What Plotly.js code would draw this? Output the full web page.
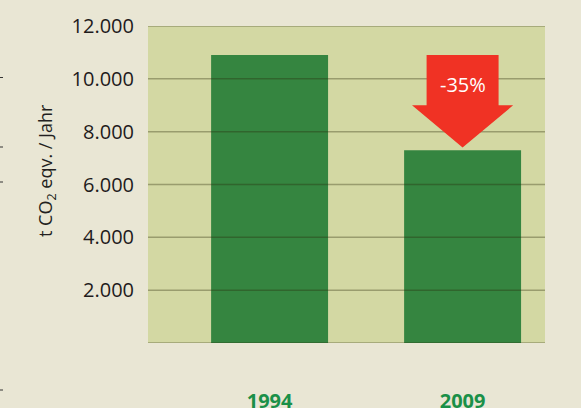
<!DOCTYPE html>
<html>
<head>
<meta charset="utf-8">
<script src="https://cdn.plot.ly/plotly-3.0.1.min.js"></script>
<style>html,body{margin:0;padding:0;background:#e9e6d4;}#chart{width:581px;height:408px;}</style>
</head>
<body>
<div id="chart"></div>
<script>
// ---- data ----
const years = ['1994', '2009'];
const emissions = [10900, 7300];
const yTicks = [2000, 4000, 6000, 8000, 10000, 12000];
const changeLabel = '-35%';
const yTitle = 't CO<sub>2</sub> eqv. / Jahr';

// ---- layout helpers ----
const xRange = [-0.63, 1.427];
const span = xRange[1] - xRange[0];
const toPaper = v => (v - xRange[0]) / span;

const cx = toPaper(1);
const rectHalf = 0.1865 / span;
const triHalf = 0.262 / span;
const arrowTop = emissions[0];
const arrowNeck = 9000;
const arrowTip = emissions[1] + 100;
const arrowPath = 'M' + (cx - rectHalf) + ',' + arrowTop +
  ' L' + (cx + rectHalf) + ',' + arrowTop +
  ' L' + (cx + rectHalf) + ',' + arrowNeck +
  ' L' + (cx + triHalf) + ',' + arrowNeck +
  ' L' + cx + ',' + arrowTip +
  ' L' + (cx - triHalf) + ',' + arrowNeck +
  ' L' + (cx - rectHalf) + ',' + arrowNeck + ' Z';

const shapes = [];
[0].concat(yTicks).forEach(v => {
  shapes.push({type: 'line', xref: 'paper', yref: 'y', x0: 0, x1: 1, y0: v, y1: v,
    line: {color: 'rgba(40,40,10,0.34)', width: 1.5}, layer: 'above'});
});
shapes.push({type: 'path', xref: 'paper', yref: 'y', path: arrowPath,
  fillcolor: '#f03224', line: {width: 0}, layer: 'above'});

// little marks at left edge
const plotL = 148, plotW = 397, plotB = 343, plotH = 317;
[77.5, 147, 182, 390].forEach(py => {
  const yp = (plotB - py) / plotH;
  shapes.push({type: 'line', xref: 'paper', yref: 'paper',
    x0: (0 - plotL) / plotW, x1: (3 - plotL) / plotW, y0: yp, y1: yp,
    line: {color: '#333', width: 1}});
});

const trace = {
  type: 'bar', x: years, y: emissions, width: 0.606,
  marker: {color: '#358540', line: {width: 0}},
  hoverinfo: 'none'
};

const layout = {
  width: 581, height: 408,
  margin: {l: 148, r: 36, t: 26, b: 65},
  paper_bgcolor: '#e9e6d4', plot_bgcolor: '#d3d8a3',
  separators: ',.',
  showlegend: false,
  font: {family: 'Open Sans, sans-serif', color: '#231f20'},
  xaxis: {
    type: 'category', range: xRange, fixedrange: true,
    showgrid: false, zeroline: false, showline: false, ticks: '',
    tickfont: {size: 20, color: '#1a9048', weight: 'bold'},
    ticklabelstandoff: 44
  },
  yaxis: {
    range: [0, 12000], tickvals: yTicks, tickformat: ',d',
    showgrid: false, zeroline: false, showline: false, ticks: '',
    tickfont: {size: 20, color: '#1f1b1c'},
    ticklabelstandoff: 13
  },
  shapes: shapes,
  annotations: [{
    xref: 'paper', yref: 'y', x: cx, y: 9800, xanchor: 'center', yanchor: 'middle',
    text: changeLabel, showarrow: false,
    font: {size: 20, color: '#ffffff'}
  }, {
    xref: 'paper', yref: 'paper', x: (47 - plotL) / plotW, y: (plotB - 170) / plotH,
    xanchor: 'center', yanchor: 'middle', textangle: -90,
    text: yTitle, showarrow: false,
    font: {size: 18, color: '#231f20'}
  }]
};

Plotly.newPlot('chart', [trace], layout, {staticPlot: true, displayModeBar: false});
</script>
</body>
</html>
